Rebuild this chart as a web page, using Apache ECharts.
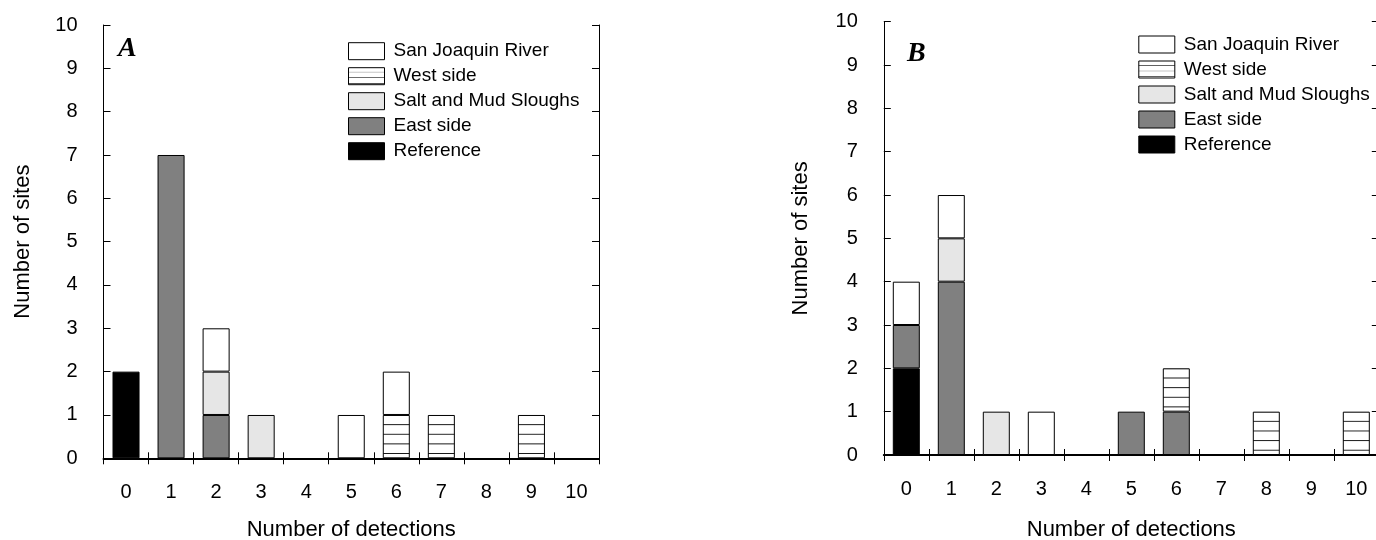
<!DOCTYPE html>
<html>
<head>
<meta charset="utf-8">
<script src="https://cdn.jsdelivr.net/npm/echarts@6/dist/echarts.min.js"></script>
<style>
html,body{margin:0;padding:0;background:#fff;}
#c{width:1376px;height:540px;}
</style>
</head>
<body>
<div id="c"></div>
<script>
// ---------- data ----------
const categories = ['0','1','2','3','4','5','6','7','8','9','10'];
const legendNames = ['San Joaquin River','West side','Salt and Mud Sloughs','East side','Reference'];
const panelLabels = ['A','B'];
const xTitle = 'Number of detections';
const yTitle = 'Number of sites';

// Panel A
const aReference   = [2,0,0,0,0,0,0,0,0,0,0];
const aEast        = [0,7,1,0,0,0,0,0,0,0,0];
const aSalt        = [0,0,1,1,0,0,0,0,0,0,0];
const aWest        = [0,0,0,0,0,0,1,1,0,1,0];
const aSanJoaquin  = [0,0,1,0,0,1,1,0,0,0,0];

// Panel B
const bReference   = [2,0,0,0,0,0,0,0,0,0,0];
const bEast        = [1,4,0,0,0,1,1,0,0,0,0];
const bSalt        = [0,1,1,0,0,0,0,0,0,0,0];
const bWest        = [0,0,0,0,0,0,1,0,1,0,1];
const bSanJoaquin  = [1,1,0,1,0,0,0,0,0,0,0];

// ---------- styling ----------
const FONT = 'Liberation Sans, Arial, sans-serif';
const panels = [
  {grid:{left:103.5, top:25, width:495.5, height:433.3}, legend:{left:348, top:41.7}, label:{left:118, top:35},
   nameGapX:61, nameGapY:70,
   data:{Reference:aReference, East:aEast, Salt:aSalt, West:aWest, SJR:aSanJoaquin}},
  {grid:{left:883.8, top:21.7, width:495, height:433.3}, legend:{left:1138.3, top:35}, label:{left:907, top:40},
   nameGapX:64, nameGapY:72,
   data:{Reference:bReference, East:bEast, Salt:bSalt, West:bWest, SJR:bSanJoaquin}}
];

function hatchCanvas(){
  const c = document.createElement('canvas');
  c.width = 8; c.height = 10;
  const g = c.getContext('2d');
  g.fillStyle = '#fff'; g.fillRect(0,0,8,10);
  g.fillStyle = '#1a1a1a'; g.fillRect(0,0,8,1);
  return c;
}
const hatchImg = hatchCanvas();
function hatch(y, scaleY){
  return {image: hatchImg, repeat: 'repeat', x: 0, y: y, scaleX: 1, scaleY: scaleY};
}

const fills = {
  Reference: '#000000',
  East: '#808080',
  Salt: '#e6e6e6',
  West: hatch(66.4, 0.567),
  SJR: '#ffffff'
};
const seriesOrder = [
  ['Reference','Reference'],
  ['East','East side'],
  ['Salt','Salt and Mud Sloughs'],
  ['West','West side'],
  ['SJR','San Joaquin River']
];

const toData = arr => arr.map(v => v === 0 ? '-' : v);

const option = {
  animation: false,
  backgroundColor: '#fff',
  title: panels.map((p,i) => ({
    text: panelLabels[i], left: p.label.left, top: p.label.top, padding: 0,
    textStyle: {fontFamily: 'Liberation Serif, Times New Roman, serif', fontStyle: 'italic', fontWeight: 'bold', fontSize: 28, color: '#000'}
  })),
  legend: panels.map(p => ({
    orient: 'vertical', left: p.legend.left, top: p.legend.top, padding: 0,
    itemWidth: 36, itemHeight: 17, itemGap: 6, icon: 'rect', selectedMode: false,
    data: legendNames,
    itemStyle: {borderColor: '#000', borderWidth: 1},
    textStyle: {fontFamily: FONT, fontSize: 19, color: '#000', lineHeight: 17, padding: [0,0,0,4]}
  })),
  grid: panels.map(p => Object.assign({outerBoundsMode: 'none', containLabel: false}, p.grid)),
  xAxis: [],
  yAxis: [],
  series: []
};

panels.forEach((p, i) => {
  option.xAxis.push({
    type: 'category', gridIndex: i, data: categories, position: 'bottom',
    axisLine: {show: true, lineStyle: {color: '#000', width: 2}},
    axisTick: {show: true, inside: true, length: 6, lineStyle: {color: '#000', width: 1}},
    axisLabel: {color: '#000', fontFamily: FONT, fontSize: 20, margin: 24},
    splitLine: {show: false},
    name: xTitle, nameLocation: 'middle', nameGap: p.nameGapX,
    nameTextStyle: {color: '#000', fontFamily: FONT, fontSize: 22}
  });
  option.xAxis.push({
    type: 'category', gridIndex: i, data: categories, position: 'top',
    axisLine: {show: true, lineStyle: {color: '#000', width: 1}},
    axisTick: {show: true, inside: true, length: 6, lineStyle: {color: '#000', width: 1}},
    axisLabel: {show: false}, splitLine: {show: false}
  });
  option.yAxis.push({
    type: 'value', gridIndex: i, min: 0, max: 10, interval: 1, position: 'left',
    axisLine: {show: true, lineStyle: {color: '#000', width: 1}},
    axisTick: {show: true, inside: true, length: 7, lineStyle: {color: '#000', width: 1}},
    axisLabel: {color: '#000', fontFamily: FONT, fontSize: 20, margin: 26},
    splitLine: {show: false},
    name: yTitle, nameLocation: 'middle', nameGap: p.nameGapY, nameRotate: 90,
    nameTextStyle: {color: '#000', fontFamily: FONT, fontSize: 22}
  });
  option.yAxis.push({
    type: 'value', gridIndex: i, min: 0, max: 10, interval: 1, position: 'right',
    axisLine: {show: true, lineStyle: {color: '#000', width: 1}},
    axisTick: {show: true, inside: true, length: 7, lineStyle: {color: '#000', width: 1}},
    axisLabel: {show: false}, splitLine: {show: false}
  });
  seriesOrder.forEach(([key, name]) => {
    option.series.push({
      id: 'p' + i + key, type: 'bar', name: name,
      xAxisIndex: 2*i, yAxisIndex: 2*i, stack: 'panel' + i,
      barWidth: '60%',
      data: toData(p.data[key]),
      itemStyle: {color: fills[key], borderColor: '#000', borderWidth: 1},
      emphasis: {disabled: true}, silent: true
    });
  });
});

const chart = echarts.init(document.getElementById('c'), null, {renderer: 'canvas'});
chart.setOption(option);

// Align the hatching of each West side segment with its own top edge (via the library's scale).
const unitPx = Math.abs(chart.convertToPixel({gridIndex: 0}, [0, 0])[1] - chart.convertToPixel({gridIndex: 0}, [0, 1])[1]);
const hatchScale = (unitPx * 2 / 9) / 10;
const updates = panels.map((p, i) => {
  const d = p.data;
  return {
    id: 'p' + i + 'West',
    data: d.West.map((v, k) => {
      if (v === 0) return '-';
      const level = d.Reference[k] + d.East[k] + d.Salt[k] + d.West[k];
      const topY = chart.convertToPixel({gridIndex: i}, [k, level])[1];
      return {value: v, itemStyle: {color: hatch(topY - 0.5 * hatchScale, hatchScale)}};
    })
  };
});
chart.setOption({series: updates});
</script>
</body>
</html>
